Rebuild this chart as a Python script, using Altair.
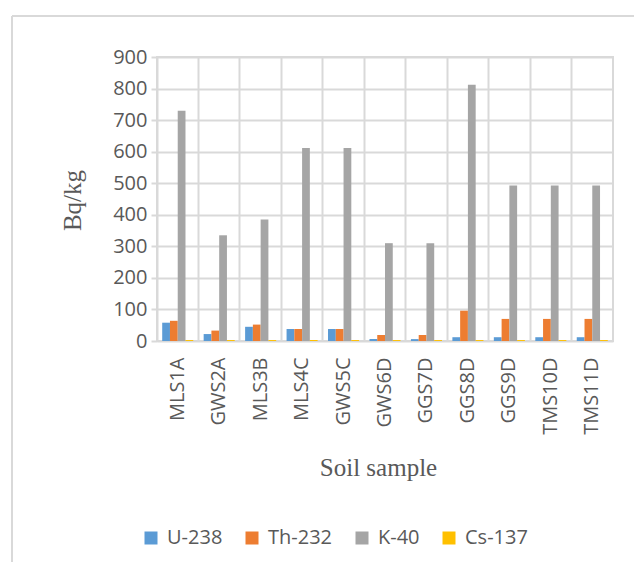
import altair as alt
import pandas as pd

samples = ["MLS1A", "GWS2A", "MLS3B", "MLS4C", "GWS5C", "GWS6D", "GGS7D", "GGS8D", "GGS9D", "TMS10D", "TMS11D"]
series = ["U-238", "Th-232", "K-40", "Cs-137"]
colors = ["#5B9BD5", "#ED7D31", "#A5A5A5", "#FFC000"]
u238 = [58, 22, 45, 38, 38, 6, 6, 12, 12, 12, 12]
th232 = [64, 33, 52, 38, 38, 19, 19, 96, 70, 70, 70]
k40 = [730, 335, 385, 612, 612, 310, 310, 812, 493, 493, 493]
cs137 = [3, 3, 3, 3, 3, 3, 3, 3, 3, 3, 3]
y_ticks = [0, 100, 200, 300, 400, 500, 600, 700, 800, 900]

rows = []
for name, vals in zip(series, [u238, th232, k40, cs137]):
    for s, v in zip(samples, vals):
        rows.append({"sample": s, "series": name, "value": v})
df = pd.DataFrame(rows)

font = "Open Sans"
grey_txt = "#595959"
grid = "#D9D9D9"

bars = alt.Chart(df).mark_bar(xOffset=-2).encode(
    x=alt.X("sample:N", sort=samples,
            scale=alt.Scale(paddingInner=0, paddingOuter=0),
            axis=alt.Axis(title="Soil sample", labelAngle=-90, labelFont=font,
                          labelFontSize=20, labelColor=grey_txt, labelPadding=16,
                          ticks=False, domain=False, grid=True, bandPosition=0,
                          gridColor=grid, gridWidth=2,
                          titleFont="Liberation Serif", titleFontSize=25,
                          titleFontWeight="normal", titleColor=grey_txt,
                          titleX=221, titleY=126, titleBaseline="middle")),
    xOffset=alt.XOffset("series:N", sort=series,
                        scale=alt.Scale(paddingInner=0, paddingOuter=0.67)),
    y=alt.Y("value:Q", scale=alt.Scale(domain=[0, 900], nice=False),
            axis=alt.Axis(title="Bq/kg", values=y_ticks, labelFont=font,
                          labelFontSize=20, labelColor=grey_txt, labelPadding=4,
                          ticks=True, tickSize=6, tickColor=grid, tickWidth=2,
                          domain=False, grid=True, gridColor=grid, gridWidth=2,
                          titleFont="Liberation Serif", titleFontSize=25,
                          titleFontWeight="normal", titleColor=grey_txt,
                          titleX=-85, titleY=143, titleAngle=-90,
                          titleBaseline="middle", titleAlign="center")),
    color=alt.Color("series:N", sort=series,
                    scale=alt.Scale(domain=series, range=colors),
                    legend=alt.Legend(title=None, orient="none", direction="horizontal",
                                      legendX=-16, legendY=471, columns=4,
                                      columnPadding=19, symbolType="square",
                                      symbolSize=169, symbolStrokeWidth=0,
                                      labelFont=font, labelFontSize=20,
                                      labelColor=grey_txt, labelOffset=6)),
)

frame = pd.DataFrame({"a": [0]})
left_line = alt.Chart(frame).mark_rule(color=grid, strokeWidth=2).encode(
    x=alt.value(-145), y=alt.value(-41), y2=alt.value(505))
top_line = alt.Chart(frame).mark_rule(color=grid, strokeWidth=2).encode(
    x=alt.value(-145), x2=alt.value(477), y=alt.value(-41))

chart = alt.layer(bars, left_line, top_line).properties(
    width=456, height=284,
    autosize=alt.AutoSizeParams(type="none"),
    padding={"left": 149, "top": 49, "right": 21, "bottom": 221},
    background="white",
).configure_view(stroke=grid, strokeWidth=2)

chart.save("out.html", embed_options={"renderer": "svg", "actions": False})
